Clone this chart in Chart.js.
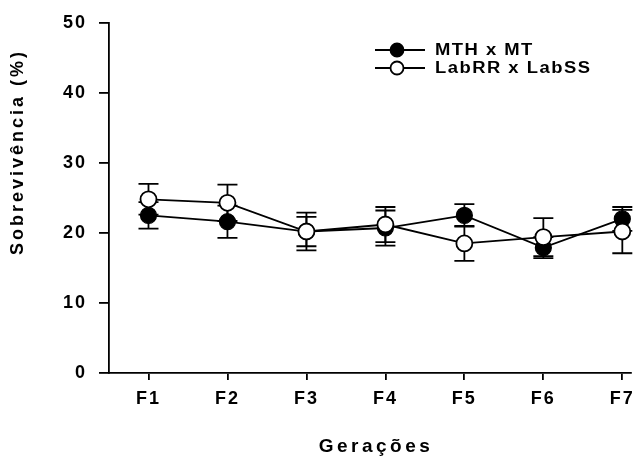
<!DOCTYPE html>
<html>
<head>
<meta charset="utf-8">
<script src="https://cdn.jsdelivr.net/npm/chart.js@4.4.1/dist/chart.umd.min.js"></script>
<style>
  html, body { margin: 0; padding: 0; background: #fff; }
  #wrap { width: 641px; height: 457px; }
</style>
</head>
<body>
<div id="wrap"><canvas id="grafico"></canvas></div>
<script>
// Dados
const geracoes = ['F1', 'F2', 'F3', 'F4', 'F5', 'F6', 'F7'];
const mthMedia = [22.5, 21.6, 20.2, 20.7, 22.5, 17.9, 22.0];
const mthErro = [1.9, 2.3, 2.1, 2.5, 1.6, 1.5, 1.7];
const labMedia = [24.8, 24.3, 20.2, 21.2, 18.5, 19.4, 20.2];
const labErro = [2.2, 2.6, 2.7, 2.5, 2.5, 2.7, 3.1];
const yTicks = [0, 10, 20, 30, 40, 50];

const FONTE = '"Liberation Sans", Arial, sans-serif';

const pontos = (medias) => medias.map((v, i) => ({ x: i + 1, y: v }));

// Barras de erro desenhadas com as escalas do próprio Chart.js
const barrasErro = {
    id: 'barrasErro',
    beforeDatasetsDraw(chart) {
        const { ctx, scales: { x, y } } = chart;
        const series = [[mthMedia, mthErro], [labMedia, labErro]];
        ctx.save();
        ctx.strokeStyle = '#000';
        ctx.lineWidth = 1.8;
        series.forEach(([medias, erros]) => {
            medias.forEach((m, i) => {
                const px = x.getPixelForValue(i + 1);
                const top = y.getPixelForValue(m + erros[i]);
                const bot = y.getPixelForValue(m - erros[i]);
                ctx.beginPath();
                ctx.moveTo(px, top); ctx.lineTo(px, bot);
                ctx.moveTo(px - 10, top); ctx.lineTo(px + 10, top);
                ctx.moveTo(px - 10, bot); ctx.lineTo(px + 10, bot);
                ctx.stroke();
            });
        });
        ctx.restore();
    }
};

// Legenda e títulos dos eixos
const textos = {
    id: 'textos',
    beforeDraw(chart) {
        chart.ctx.letterSpacing = '2px';
    },
    afterDraw(chart) {
        const ctx = chart.ctx;
        ctx.save();
        ctx.strokeStyle = '#000';

        const linhas = [
            { y: 50, texto: 'MTH x MT', cheio: true },
            { y: 68, texto: 'LabRR x LabSS', cheio: false }
        ];
        linhas.forEach(l => {
            ctx.lineWidth = 1.8;
            ctx.beginPath();
            ctx.moveTo(375, l.y); ctx.lineTo(425, l.y);
            ctx.stroke();
            ctx.beginPath();
            ctx.arc(397, l.y, 6.5, 0, Math.PI * 2);
            ctx.fillStyle = l.cheio ? '#000' : '#fff';
            ctx.fill();
            ctx.stroke();
            // texto um pouco esticado na horizontal, como no original
            ctx.save();
            ctx.translate(435, l.y + 1);
            ctx.scale(1.15, 1);
            ctx.fillStyle = '#000';
            ctx.font = 'bold 16px ' + FONTE;
            ctx.letterSpacing = '1.3px';
            ctx.textAlign = 'left';
            ctx.textBaseline = 'middle';
            ctx.fillText(l.texto, 0, 0);
            ctx.restore();
        });

        ctx.fillStyle = '#000';
        ctx.font = 'bold 19px ' + FONTE;
        ctx.letterSpacing = '3.5px';
        ctx.textAlign = 'center';
        ctx.textBaseline = 'middle';
        ctx.fillText('Gerações', 376, 447);

        ctx.translate(18, 152);
        ctx.rotate(-Math.PI / 2);
        ctx.font = 'bold 18px ' + FONTE;
        ctx.letterSpacing = '3px';
        ctx.fillText('Sobrevivência (%)', 0, 0);
        ctx.restore();
    }
};

new Chart(document.getElementById('grafico'), {
    type: 'line',
    data: {
        datasets: [
            {
                label: 'MTH x MT',
                data: pontos(mthMedia),
                borderColor: '#000',
                borderWidth: 1.8,
                pointRadius: 8,
                pointBackgroundColor: '#000',
                pointBorderColor: '#000',
                pointBorderWidth: 1.2,
                order: 2
            },
            {
                label: 'LabRR x LabSS',
                data: pontos(labMedia),
                borderColor: '#000',
                borderWidth: 1.8,
                pointRadius: 8,
                pointBackgroundColor: '#fff',
                pointBorderColor: '#000',
                pointBorderWidth: 1.8,
                order: 1
            }
        ]
    },
    options: {
        responsive: true,
        maintainAspectRatio: false,
        animation: false,
        layout: { padding: { top: 20, right: 3, left: 0, bottom: 0 } },
        plugins: {
            legend: { display: false },
            tooltip: { enabled: false }
        },
        scales: {
            x: {
                type: 'linear',
                min: 0.5,
                max: 7.1125,
                afterFit(s) { s.height = 84; },
                afterBuildTicks(s) { s.ticks = geracoes.map((g, i) => ({ value: i + 1 })); },
                border: { display: true, color: '#000', width: 1.8 },
                grid: { drawOnChartArea: false, drawTicks: true, tickLength: 7, color: '#000', lineWidth: 1.8 },
                ticks: {
                    color: '#000',
                    padding: 8,
                    font: { family: FONTE, size: 18, weight: 'bold' },
                    callback: (v) => geracoes[v - 1]
                }
            },
            y: {
                min: 0,
                max: 50,
                afterFit(s) { s.width = 109; },
                afterBuildTicks(s) { s.ticks = yTicks.map(v => ({ value: v })); },
                border: { display: true, color: '#000', width: 1.8 },
                grid: { drawOnChartArea: false, drawTicks: true, tickLength: 10, color: '#000', lineWidth: 1.8 },
                ticks: {
                    color: '#000',
                    padding: 12,
                    font: { family: FONTE, size: 18, weight: 'bold' }
                }
            }
        }
    },
    plugins: [barrasErro, textos]
});
</script>
</body>
</html>
